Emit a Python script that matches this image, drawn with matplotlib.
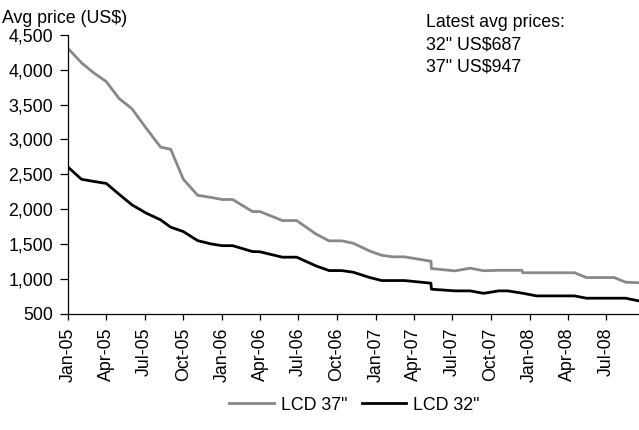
import matplotlib
matplotlib.use('Agg')
import matplotlib.pyplot as plt
import matplotlib.dates as mdates
import numpy as np

plt.rcParams['font.family'] = ['Liberation Sans', 'DejaVu Sans']

# sample dates and average prices (US$)
dates = ['2005-01-01', '2005-02-01', '2005-03-01', '2005-04-01', '2005-05-01',
         '2005-06-01', '2005-07-05', '2005-08-08', '2005-09-01', '2005-10-01',
         '2005-11-04', '2005-12-05', '2006-01-01', '2006-01-26', '2006-03-14',
         '2006-04-01', '2006-05-24', '2006-06-27', '2006-08-12', '2006-09-12',
         '2006-10-12', '2006-11-08', '2006-12-18', '2007-01-15', '2007-02-10',
         '2007-03-10', '2007-05-12', '2007-05-13', '2007-07-08', '2007-08-13',
         '2007-09-14', '2007-10-20', '2007-11-10', '2007-12-14', '2007-12-16',
         '2008-01-18', '2008-04-17', '2008-05-15', '2008-07-20', '2008-08-16',
         '2008-09-16']
lcd37 = [4300, 4100, 3960, 3830, 3590, 3440, 3160, 2890, 2860, 2430,
         2200, 2170, 2140, 2140, 1967, 1967, 1838, 1838, 1645, 1547,
         1547, 1514, 1400, 1340, 1318, 1318, 1255, 1150, 1117, 1155,
         1119, 1125, 1125, 1125, 1090, 1090, 1090, 1021, 1021, 955,
         947]
lcd32 = [2600, 2430, 2400, 2370, 2217, 2063, 1944, 1848, 1743, 1680,
         1550, 1504, 1478, 1478, 1394, 1390, 1313, 1313, 1188, 1121,
         1121, 1098, 1021, 978, 978, 978, 940, 854, 830, 830,
         795, 830, 830, 798, 796, 758, 758, 725, 725, 725,
         687]

x = np.array(dates, dtype='datetime64[D]')
fs = 12.8

fig = plt.figure(figsize=(6.39, 4.30), dpi=100)
ax = fig.add_axes([0.107, 0.27, 0.893, 0.649])

line37, = ax.plot(x, lcd37, color='#888888', lw=2.0)
line32, = ax.plot(x, lcd32, color='black', lw=2.0)

ax.set_ylim(500, 4500)
ax.set_yticks(np.arange(500, 4501, 500))
ax.yaxis.set_major_formatter(matplotlib.ticker.FuncFormatter(lambda v, p: f'{int(v):,}'))
ax.set_xlim(x[0], x[-1] + np.timedelta64(1, 'D'))
ax.xaxis.set_major_locator(mdates.MonthLocator(bymonth=[1, 4, 7, 10]))
ax.xaxis.set_major_formatter(mdates.DateFormatter('%b-%y'))

for s in ['top', 'right']:
    ax.spines[s].set_visible(False)
for s in ['left', 'bottom']:
    ax.spines[s].set_linewidth(0.9)
ax.tick_params(axis='y', direction='out', length=6, width=0.9, pad=5, labelsize=fs)
ax.tick_params(axis='x', direction='out', length=4, width=0.9, pad=6, labelsize=fs,
               labelrotation=90)

fig.text(0.003, 0.958, 'Avg price (US\\$)', fontsize=fs, ha='left', va='center')
fig.text(0.667, 0.967,
         'Latest avg prices:\n'
         f'32" US\\${lcd32[-1]}\n'
         f'37" US\\${lcd37[-1]}',
         fontsize=fs, ha='left', va='top', linespacing=1.4)

fig.legend([line37, line32], ['LCD 37"', 'LCD 32"'], loc='center',
           bbox_to_anchor=(0.555, 0.058), ncol=2, frameon=False, fontsize=fs,
           handlelength=2.5, handletextpad=0.4, columnspacing=0.8)

fig.savefig('out.png', dpi=100)
